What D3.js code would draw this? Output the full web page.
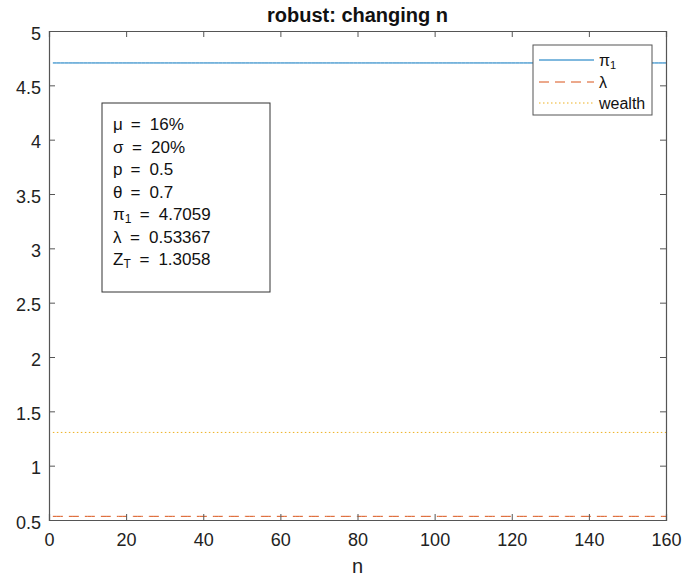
<!DOCTYPE html>
<html>
<head>
<meta charset="utf-8">
<script src="https://cdn.jsdelivr.net/npm/d3@7"></script>
<style>
  body { margin: 0; background: #fff; }
  text { font-family: "Liberation Sans", Arial, Helvetica, sans-serif; }
</style>
</head>
<body>
<svg id="chart" width="683" height="577"></svg>
<script>
// Horizon range and series levels (constant across n)
const nValues = d3.range(1, 161);
const piLevel = 4.7059;
const lambdaLevel = 0.53367;
const wealthLevel = 1.3058;
const xTicks = [0, 20, 40, 60, 80, 100, 120, 140, 160];
const yTicks = [0.5, 1, 1.5, 2, 2.5, 3, 3.5, 4, 4.5, 5];
const paramLines = [
  ["μ", null, "16%"],
  ["σ", null, "20%"],
  ["p", null, "0.5"],
  ["θ", null, "0.7"],
  ["π", "1", "4.7059"],
  ["λ", null, "0.53367"],
  ["Z", "T", "1.3058"]
];

const series = [
  { name: "π", sub: "1", value: piLevel, color: "#0072BD", dash: null },
  { name: "λ", sub: null, value: lambdaLevel, color: "#D95319", dash: "10,6" },
  { name: "wealth", sub: null, value: wealthLevel, color: "#EDB120", dash: "1.5,2.5" }
];

const svg = d3.select("#chart");
const m = { left: 49, right: 666, top: 31, bottom: 520 };
const x = d3.scaleLinear().domain([0, 160]).range([m.left, m.right]);
const y = d3.scaleLinear().domain([0.5, 5]).range([m.bottom, m.top]);
const axisColor = "#555";
const tickLen = 6;

// Series lines
const line = d3.line().x(d => x(d[0])).y(d => y(d[1]));
series.forEach(s => {
  svg.append("path")
    .datum(nValues.map(n => [n, s.value]))
    .attr("d", line)
    .attr("fill", "none")
    .attr("stroke", s.color)
    .attr("stroke-width", 1)
    .attr("stroke-dasharray", s.dash);
});

// Axes (ticks pointing inward, on all four sides)
const gx = svg.append("g").attr("transform", `translate(0,${m.bottom})`)
  .call(d3.axisBottom(x).tickValues(xTicks).tickSize(-tickLen).tickPadding(13).tickFormat(d3.format("d")));
const gxTop = svg.append("g").attr("transform", `translate(0,${m.top})`)
  .call(d3.axisTop(x).tickValues(xTicks).tickSize(-tickLen).tickFormat(""));
const gy = svg.append("g").attr("transform", `translate(${m.left},0)`)
  .call(d3.axisLeft(y).tickValues(yTicks).tickSize(-tickLen).tickPadding(8).tickFormat(d => d3.format("")(d)));
const gyRight = svg.append("g").attr("transform", `translate(${m.right},0)`)
  .call(d3.axisRight(y).tickValues(yTicks).tickSize(-tickLen).tickFormat(""));

[gx, gxTop, gy, gyRight].forEach(g => {
  g.select(".domain").attr("stroke", axisColor).attr("stroke-width", 1.2);
  g.selectAll(".tick line").attr("stroke", axisColor);
  g.selectAll(".tick text").attr("fill", "#222").attr("font-size", 18);
});
gx.selectAll(".tick text").attr("dy", "0.71em");
gy.selectAll(".tick text").attr("dy", "0.45em");

// Title and x label
svg.append("text").attr("x", (m.left + m.right) / 2).attr("y", 22)
  .attr("text-anchor", "middle").attr("font-size", 20).attr("font-weight", "bold")
  .attr("fill", "#111").text("robust: changing n");
svg.append("text").attr("x", (m.left + m.right) / 2).attr("y", 573)
  .attr("text-anchor", "middle").attr("font-size", 20).attr("fill", "#222").text("n");

// Legend
const lg = svg.append("g");
lg.append("rect").attr("x", 533).attr("y", 45).attr("width", 119).attr("height", 70)
  .attr("fill", "#fff").attr("stroke", axisColor).attr("stroke-width", 1);
series.forEach((s, i) => {
  const ly = [60, 82, 103][i];
  lg.append("line").attr("x1", 539).attr("x2", 594).attr("y1", ly).attr("y2", ly)
    .attr("stroke", s.color).attr("stroke-width", 1).attr("stroke-dasharray", s.dash);
  const t = lg.append("text").attr("x", 599).attr("y", ly + 6).attr("font-size", 16).attr("fill", "#111");
  t.append("tspan").text(s.name);
  if (s.sub) t.append("tspan").attr("font-size", 11).attr("dy", 3).text(s.sub);
});

// Parameter annotation box
const ab = svg.append("g");
ab.append("rect").attr("x", 102).attr("y", 103).attr("width", 168).attr("height", 189)
  .attr("fill", "#fff").attr("stroke", "#333").attr("stroke-width", 1);
paramLines.forEach((p, i) => {
  const by = 130 + i * 22.5;
  const t = ab.append("text").attr("x", 113).attr("y", by)
    .attr("font-size", 17).attr("fill", "#111");
  t.append("tspan").text(p[0]);
  if (p[1]) t.append("tspan").attr("font-size", 12).attr("dy", 3).text(p[1]);
  const bb = t.node().getBBox();
  const eqX = bb.x + bb.width + 8;
  ab.append("text").attr("x", eqX).attr("y", by).attr("font-size", 17).attr("fill", "#111").text("=");
  ab.append("text").attr("x", eqX + 19).attr("y", by).attr("font-size", 17).attr("fill", "#111").text(p[2]);
});
</script>
</body>
</html>
